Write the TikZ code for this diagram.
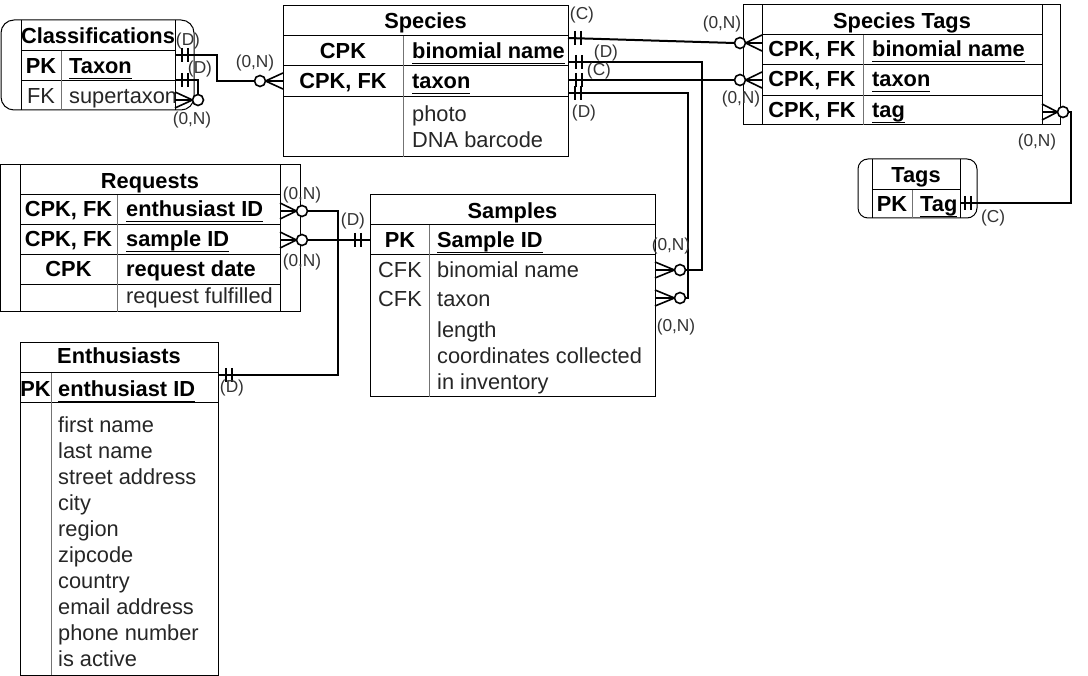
\documentclass[tikz,border=0pt]{standalone}
\usepackage{fontspec}
\setmainfont{Liberation Sans}
\usetikzlibrary{calc}
\newcommand\fs{\fontsize{21.8}{26}\selectfont}
\newcommand\fsm{\fontsize{17.3}{20}\selectfont}
\newcommand\ulx[1]{\setbox0=\hbox{#1}\rlap{\rule[-5.5pt]{\wd0}{1.8pt}}\box0}
\begin{document}
\begin{tikzpicture}[x=1pt,y=-1pt,
  ent/.style={draw, line width=1pt, inner sep=0pt, outer sep=0pt, anchor=north west},
  sep/.style={line width=1pt},
  dv/.style={line width=1pt, draw=black!55},
  ttl/.style={font=\fs\bfseries, anchor=base, inner sep=0pt},
  key/.style={font=\fs\bfseries, anchor=base, inner sep=0pt},
  kf/.style={font=\fs\bfseries, anchor=base west, inner sep=0pt},
  fkey/.style={font=\fs, text=black!85, anchor=base, inner sep=0pt},
  fld/.style={font=\fs, text=black!85, anchor=base west, inner sep=0pt},
  card/.style={font=\fsm, text=black!80, inner sep=0pt},
  conn/.style={line width=2pt},
  mk/.style={line width=1.6pt},
  pics/mone/.style={code={\draw[mk] (#1,-7) -- (#1,7) (#1+6,-7) -- (#1+6,7);}},
  pics/zmany/.style={code={\draw[mk] (0,-8) -- (#1-5.5,0) -- (0,8) (0,0) -- (#1-5.5,0);
     \draw[mk, fill=white] (#1,0) circle (5.5);}},
]
\fill[white] (0,0) rectangle (1088,676);
\useasboundingbox (0,0) rectangle (1088,676);

% ---------- entities ----------
\node[ent, minimum width=193pt, minimum height=90pt, rounded corners=13pt] (cls) at (1,20) {};
\node[ent, minimum width=285pt, minimum height=151pt] (species) at (283,6) {};
\node[ent, minimum width=317pt, minimum height=120pt] (stags) at (743,5) {};
\node[ent, minimum width=119pt, minimum height=59pt, rounded corners=10pt] (tags) at (858,159) {};
\node[ent, minimum width=299.5pt, minimum height=147pt] (req) at (0.5,165) {};
\node[ent, minimum width=285pt, minimum height=202pt] (samples) at (370,195) {};
\node[ent, minimum width=198pt, minimum height=332pt] (enth) at (20,343) {};

% Classifications
\draw[sep] (21,20) -- (21,110) (175,20) -- (175,110) (21,51) -- (175,51) (21,81) -- (175,81);
\draw[dv] (61,51) -- (61,110);
\node[ttl] (cls-t) at (98,44) {Classifications};
\node[key] (cls-k1) at (41,74) {PK};
\node[kf] (cls-f1) at (69,74) {\ulx{Taxon}};
\node[fkey] (cls-k2) at (41,104) {FK};
\node[fld] (cls-f2) at (69,104) {supertaxon};

% Species
\draw[sep] (283,36) -- (568,36) (283,66) -- (568,66) (283,97) -- (568,97);
\draw[dv] (403,36) -- (403,157);
\node[ttl] (sp-t) at (425.5,29) {Species};
\node[key] (sp-k1) at (343,59) {CPK};
\node[kf] (sp-f1) at (412,59) {\ulx{binomial name}};
\node[key] (sp-k2) at (343,89) {CPK, FK};
\node[kf] (sp-f2) at (412,89) {\ulx{taxon}};
\node[fld] (sp-f3) at (412,122) {photo};
\node[fld] (sp-f4) at (412,148) {DNA barcode};

% Species Tags
\draw[sep] (762,5) -- (762,125) (1042,5) -- (1042,125) (762,35) -- (1042,35) (762,65) -- (1042,65) (762,96) -- (1042,96);
\draw[dv] (863,35) -- (863,125);
\node[ttl] (st-t) at (902,29) {Species Tags};
\node[key] (st-k1) at (812,57) {CPK, FK};
\node[kf] (st-f1) at (872,57) {\ulx{binomial name}};
\node[key] (st-k2) at (812,87) {CPK, FK};
\node[kf] (st-f2) at (872,87) {\ulx{taxon}};
\node[key] (st-k3) at (812,118) {CPK, FK};
\node[kf] (st-f3) at (872,118) {\ulx{tag}};

% Tags
\draw[sep] (872,159) -- (872,218) (960,159) -- (960,218) (872,190) -- (960,190);
\draw[dv] (912,190) -- (912,218);
\node[ttl] (tg-t) at (916,183) {Tags};
\node[key] (tg-k) at (892,212) {PK};
\node[kf] (tg-f) at (920,212) {\ulx{Tag}};

% Requests
\draw[sep] (20,165) -- (20,312) (280,165) -- (280,312) (20,195) -- (280,195) (20,225) -- (280,225) (20,255) -- (280,255) (20,285) -- (280,285);
\draw[dv] (117,195) -- (117,312);
\node[ttl] (rq-t) at (150,189) {Requests};
\node[key] (rq-k1) at (68.5,217) {CPK, FK};
\node[kf] (rq-f1) at (126,217) {\ulx{enthusiast ID}};
\node[key] (rq-k2) at (68.5,247) {CPK, FK};
\node[kf] (rq-f2) at (126,247) {\ulx{sample ID}};
\node[key] (rq-k3) at (68.5,277) {CPK};
\node[kf] (rq-f3) at (126,277) {request date};
\node[fld] (rq-f4) at (126,304) {request fulfilled};

% Samples
\draw[sep] (370,225) -- (655,225) (370,255) -- (655,255);
\draw[dv] (429,225) -- (429,397);
\node[ttl] (sm-t) at (512.5,219) {Samples};
\node[key] (sm-k1) at (400,248) {PK};
\node[kf] (sm-f1) at (437,248) {\ulx{Sample ID}};
\node[fkey] (sm-k2) at (400,278) {CFK};
\node[fld] (sm-f2) at (437,278) {binomial name};
\node[fkey] (sm-k3) at (400,307) {CFK};
\node[fld] (sm-f3) at (437,307) {taxon};
\node[fld] (sm-f4) at (437,338) {length};
\node[fld] (sm-f5) at (437,364) {coordinates collected};
\node[fld] (sm-f6) at (437,390) {in inventory};

% Enthusiasts
\draw[sep] (20,373) -- (218,373) (20,403) -- (218,403);
\draw[dv] (51,373) -- (51,675);
\node[ttl] (en-t) at (119,364) {Enthusiasts};
\node[key] (en-k) at (35.5,397) {PK};
\node[kf] (en-f) at (58,397) {\ulx{enthusiast ID}};
\foreach \t [count=\i] in {first name, last name, street address, city, region, zipcode, country, email address, phone number, is active}
  \node[fld] (en-f\i) at (58,{432+26*(\i-1)}) {\t};

% ---------- connection points ----------
\coordinate (a1) at ($(cls.north east)+(-19,35)$);
\coordinate (b1) at ($(species.north west)+(0,75)$);
\coordinate (a2) at ($(cls.north east)+(-19,60)$);
\coordinate (b2) at ($(cls.north east)+(-19,80)$);
\coordinate (a3) at ($(species.north east)+(0,32)$);
\coordinate (b3) at ($(stags.north west)+(19,38)$);
\coordinate (a4) at ($(species.north east)+(0,56)$);
\coordinate (b4) at ($(samples.north east)+(0,75)$);
\coordinate (a5) at ($(species.north east)+(0,74)$);
\coordinate (b5) at ($(stags.north west)+(19,75)$);
\coordinate (a6) at ($(species.north east)+(0,87)$);
\coordinate (b6) at ($(samples.north east)+(0,103)$);
\coordinate (a7) at ($(tags.north east)+(-17,44)$);
\coordinate (b7) at ($(stags.north east)+(-18,107)$);
\coordinate (a8) at ($(enth.north east)+(0,32)$);
\coordinate (b8) at ($(req.north east)+(-20,46)$);
\coordinate (a9) at ($(samples.north west)+(0,45)$);
\coordinate (b9) at ($(req.north east)+(-20,75)$);

% ---------- connectors ----------
\draw[conn] (a1) -- ++(42,0) |- (b1);
\draw[conn] (a2) -| ($(b2)+(23,0)$);
\draw[conn] (a3) -- ($(b3)+(-28,0)$);
\draw[conn] (a4) -- ++(134,0) |- (b4);
\draw[conn] (a5) -- (b5);
\draw[conn] (a6) -- ++(120,0) |- (b6);
\draw[conn] (a7) -- ++(111,0) |- (b7);
\draw[conn] (a8) -- ++(120,0) |- (b8);
\draw[conn] (a9) -- (b9);

% ---------- end markers ----------
\pic at (a1) {mone=7};
\pic[xscale=-1] at (b1) {zmany=23};
\pic at (a2) {mone=7};
\pic at (b2) {zmany=23};
\pic at (a3) {mone=7};
\pic[xscale=-1] at (b3) {zmany=22};
\pic at (a4) {mone=8};
\pic at (b4) {zmany=25};
\pic at (a5) {mone=8};
\pic[xscale=-1] at (b5) {zmany=22};
\pic at (a6) {mone=7};
\pic at (b6) {zmany=25};
\pic at (a7) {mone=5};
\pic at (b7) {zmany=21};
\pic at (a8) {mone=8};
\pic at (b8) {zmany=22};
\pic[xscale=-1] at (a9) {mone=9};
\pic at (b9) {zmany=22};

% ---------- cardinality labels ----------
\node[card] (l1) at (188,41) {(D)};
\node[card] (l2) at (200,69) {(D)};
\node[card] (l3) at (192,120) {(0,N)};
\node[card] (l4) at (255,63) {(0,N)};
\node[card] (l5) at (582,15) {(C)};
\node[card] (l6) at (606,53) {(D)};
\node[card] (l7) at (599,71) {(C)};
\node[card] (l8) at (584,113) {(D)};
\node[card] (l9) at (722,24) {(0,N)};
\node[card] (l10) at (741,99) {(0,N)};
\node[card] (l11) at (671,246) {(0,N)};
\node[card] (l12) at (676,327) {(0,N)};
\node[card] (l13) at (993,218) {(C)};
\node[card] (l14) at (1037,142) {(0,N)};
\node[card] (l15) at (302,195) {(0,N)};
\node[card] (l16) at (302,262) {(0,N)};
\node[card] (l17) at (353,221) {(D)};
\node[card] (l18) at (232,388) {(D)};
\end{tikzpicture}
\end{document}
